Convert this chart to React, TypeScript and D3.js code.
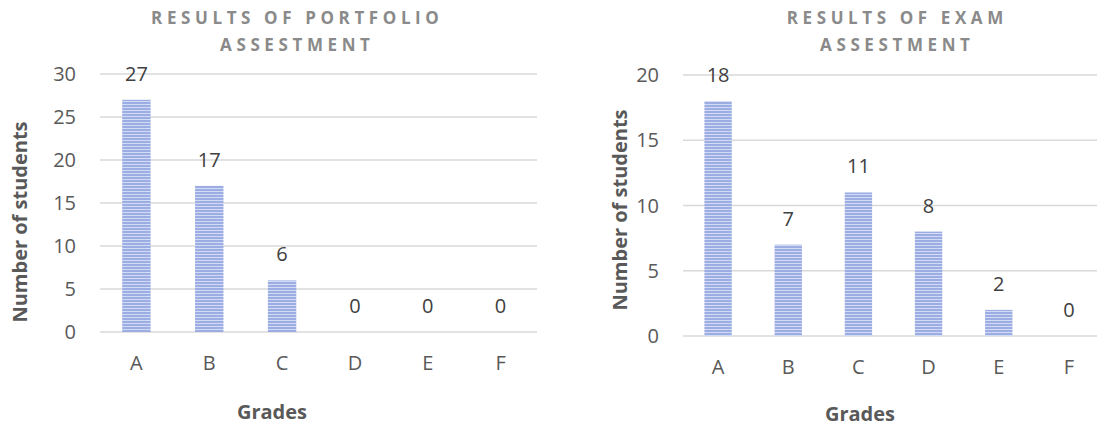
import React from "react";
import * as d3 from "d3";

// Grade categories shared by both charts
const grades = ["A", "B", "C", "D", "E", "F"];

// Number of students per grade
const portfolioCounts = [27, 17, 6, 0, 0, 0];
const examCounts = [18, 7, 11, 8, 2, 0];

// Y axis ticks
const portfolioTicks = [0, 5, 10, 15, 20, 25, 30];
const examTicks = [0, 5, 10, 15, 20];

const portfolioTitle = ["RESULTS OF PORTFOLIO", "ASSESTMENT"];
const examTitle = ["RESULTS OF EXAM", "ASSESTMENT"];

const FONT = "'Open Sans', 'Noto Sans', sans-serif";
const TICK_COLOR = "#595959";
const TITLE_COLOR = "#8a8a8a";
const GRID_COLOR = "#d9d9d9";

type PanelProps = {
  id: string;
  title: string[];
  titleX: number;
  values: number[];
  ticks: number[];
  maxY: number;
  x0: number;
  x1: number;
  gridEnd: number;
  y0: number;
  yTop: number;
  yTitleX: number;
  yTitleY: number;
  xTitleX: number;
  xTitleY: number;
};

const TITLE_SPACING = 4.6;

function Panel(p: PanelProps) {
  const x = d3.scaleBand<string>().domain(grades).range([p.x0, p.x1]).paddingInner(0.61).paddingOuter(0.305);
  const y = d3.scaleLinear().domain([0, p.maxY]).range([p.y0, p.yTop]);
  const bw = x.bandwidth();
  return (
    <g>
      {p.title.map((t, i) => (
        <text
          key={i}
          x={p.titleX + TITLE_SPACING / 2}
          y={24 + i * 27}
          textAnchor="middle"
          fontFamily={FONT}
          fontWeight={700}
          fontSize={17}
          letterSpacing={TITLE_SPACING}
          fill={TITLE_COLOR}
        >
          {t}
        </text>
      ))}
      {p.ticks.map((t) => (
        <g key={t}>
          <line x1={p.x0} x2={p.gridEnd} y1={y(t)} y2={y(t)} stroke={GRID_COLOR} strokeWidth={1.5} />
          <text
            x={p.x0 - 24}
            y={y(t)}
            dy="0.35em"
            textAnchor="end"
            fontFamily={FONT}
            fontSize={20}
            fill={TICK_COLOR}
          >
            {t}
          </text>
        </g>
      ))}
      {grades.map((g, i) => (
        <g key={g}>
          {p.values[i] > 0 && (
            <rect
              x={x(g)}
              y={y(p.values[i])}
              width={bw}
              height={p.y0 - y(p.values[i])}
              fill={`url(#${p.id}-stripes)`}
            />
          )}
          <text
            x={(x(g) ?? 0) + bw / 2}
            y={y(p.values[i]) - 19}
            textAnchor="middle"
            fontFamily={FONT}
            fontSize={20}
            fill="#404040"
          >
            {p.values[i]}
          </text>
          <text
            x={(x(g) ?? 0) + bw / 2}
            y={p.y0 + 31}
            dy="0.35em"
            textAnchor="middle"
            fontFamily={FONT}
            fontSize={20}
            fill={TICK_COLOR}
          >
            {g}
          </text>
        </g>
      ))}
      <text
        x={p.xTitleX}
        y={p.xTitleY}
        dy="0.35em"
        textAnchor="middle"
        fontFamily={FONT}
        fontWeight={700}
        fontSize={20}
        fill={TICK_COLOR}
      >
        Grades
      </text>
      <text
        transform={`translate(${p.yTitleX},${p.yTitleY}) rotate(-90)`}
        dy="0.35em"
        textAnchor="middle"
        fontFamily={FONT}
        fontWeight={700}
        fontSize={20}
        fill={TICK_COLOR}
      >
        Number of students
      </text>
    </g>
  );
}

function Stripes({ id }: { id: string }) {
  return (
    <pattern id={`${id}-stripes`} patternUnits="userSpaceOnUse" width={6} height={3}>
      <rect x={0} y={0} width={6} height={3} fill="#d3daf4" />
      <rect x={0} y={0} width={6} height={2} fill="#9cade3" />
    </pattern>
  );
}

export default function App() {
  return (
    <svg
      width={1097}
      height={427}
      style={{ position: "absolute", left: 0, top: 0, background: "#fff" }}
    >
      <defs>
        <Stripes id="pf" />
        <Stripes id="ex" />
      </defs>
      <Panel
        id="pf"
        title={portfolioTitle}
        titleX={295}
        values={portfolioCounts}
        ticks={portfolioTicks}
        maxY={30}
        x0={100}
        x1={537}
        gridEnd={537}
        y0={332}
        yTop={74}
        yTitleX={20}
        yTitleY={222}
        xTitleX={272}
        xTitleY={412}
      />
      <Panel
        id="ex"
        title={examTitle}
        titleX={895}
        values={examCounts}
        ticks={examTicks}
        maxY={20}
        x0={683}
        x1={1104}
        gridEnd={1097}
        y0={336}
        yTop={75}
        yTitleX={620}
        yTitleY={210}
        xTitleX={860}
        xTitleY={414}
      />
    </svg>
  );
}
